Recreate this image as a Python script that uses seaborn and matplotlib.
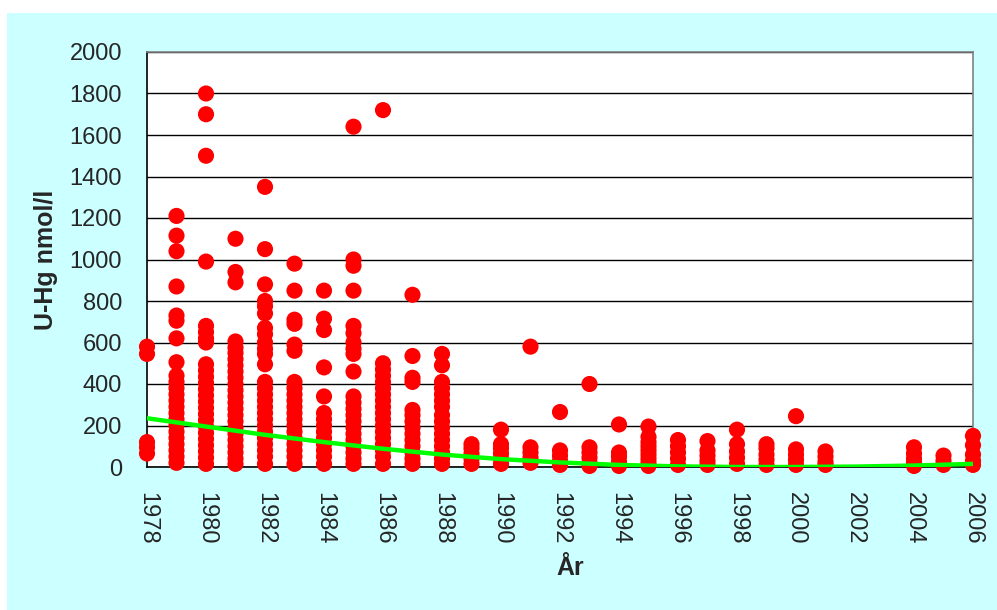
import numpy as np
import pandas as pd
import matplotlib
matplotlib.use("Agg")
import matplotlib.pyplot as plt
from matplotlib.patches import Rectangle
import seaborn as sns

years = [1978, 1979, 1980, 1981, 1982, 1983, 1984, 1985, 1986, 1987, 1988, 1989,
         1990, 1991, 1992, 1993, 1994, 1995, 1996, 1997, 1998, 1999, 2000, 2001,
         2004, 2005, 2006]
hg_values = [
    [580, 545, 120, 95, 65],
    [1210, 1115, 1040, 870, 730, 705, 620, 505, 440, 410, 380, 350, 320, 290,
     260, 230, 200, 170, 140, 110, 80, 50, 20],
    [1800, 1700, 1500, 990, 680, 650, 620, 600, 495, 465, 435, 405, 375, 345,
     315, 285, 255, 225, 195, 165, 135, 105, 75, 45, 15],
    [1100, 940, 890, 605, 575, 550, 520, 490, 460, 430, 400, 370, 340, 310,
     280, 250, 220, 190, 160, 130, 100, 70, 40, 15],
    [1350, 1050, 880, 800, 775, 740, 670, 640, 600, 570, 545, 495, 410, 380,
     350, 320, 290, 260, 230, 200, 170, 140, 110, 80, 50, 15],
    [980, 850, 710, 690, 590, 560, 410, 380, 350, 320, 290, 260, 230, 200,
     170, 140, 110, 80, 50, 15],
    [850, 715, 660, 480, 340, 260, 230, 200, 170, 140, 110, 80, 50, 15],
    [1640, 1000, 970, 850, 680, 645, 600, 570, 545, 460, 340, 310, 280, 250,
     220, 190, 160, 130, 100, 70, 40, 15],
    [1720, 500, 470, 440, 410, 380, 350, 320, 290, 260, 230, 200, 170, 140,
     110, 80, 50, 15],
    [830, 535, 430, 410, 275, 250, 220, 190, 160, 130, 100, 70, 40, 15],
    [545, 490, 410, 380, 350, 320, 290, 250, 220, 190, 160, 130, 100, 70, 40, 15],
    [110, 90, 65, 40, 15],
    [180, 110, 90, 65, 40, 15],
    [580, 95, 70, 45, 20],
    [265, 80, 55, 30, 10],
    [400, 95, 70, 45, 20, 5],
    [205, 70, 50, 25, 5],
    [195, 145, 120, 100, 80, 60, 40, 20, 5],
    [130, 100, 70, 40, 10],
    [125, 80, 55, 30, 10],
    [180, 110, 75, 45, 15],
    [110, 90, 60, 35, 10],
    [245, 85, 60, 35, 10],
    [75, 50, 25, 10],
    [95, 65, 40, 20, 5],
    [55, 30, 10],
    [150, 105, 60, 30, 10],
]

# polynomial trend line
trend_years = [1978, 1980, 1982, 1984, 1986, 1988, 1990, 1992, 1994, 1996,
               1998, 2000, 2002, 2004, 2006]
trend_values = [235, 195, 155, 120, 88, 60, 38, 22, 10, 3, 0, 0, 2, 7, 15]

x_ticks = list(range(1978, 2007, 2))
y_ticks = list(range(0, 2001, 200))

df = pd.DataFrame({
    "year": np.repeat(years, [len(v) for v in hg_values]),
    "hg": np.concatenate(hg_values),
})

sns.set_style("white")
plt.rcParams["font.family"] = ["Liberation Sans", "DejaVu Sans"]

W, H = 997, 610
fig = plt.figure(figsize=(W / 100, H / 100), dpi=100)
fig.patch.set_facecolor("white")
fig.add_artist(Rectangle((7 / W, 0), 1, 1 - 13 / H, transform=fig.transFigure,
                         facecolor="#CCFFFF", edgecolor="none", zorder=-10))

ax = fig.add_axes([147 / W, 1 - 467 / H, (973 - 147) / W, (467 - 52) / H])
ax.set_facecolor("white")

sns.scatterplot(data=df, x="year", y="hg", ax=ax, color="#FF0000", s=135,
                edgecolor="none", linewidth=0, clip_on=False, zorder=3)
sns.lineplot(x=trend_years, y=trend_values, ax=ax, color="#00FF00", lw=3.2,
             zorder=4)

ax.set_xlim(1978, 2006)
ax.set_ylim(0, 2000)
ax.set_xticks(x_ticks)
ax.set_yticks(y_ticks)
ax.set_xticklabels([str(t) for t in x_ticks], rotation=-90, fontsize=17)
ax.set_yticklabels([str(t) for t in y_ticks], fontsize=17)
ax.tick_params(axis="x", direction="inout", length=8, width=1, pad=14, color="black")
ax.tick_params(axis="y", direction="out", length=5, width=1, pad=13, color="black")

ax.yaxis.grid(True, color="black", lw=1)
ax.xaxis.grid(False)
ax.set_axisbelow(True)

for side in ["left", "bottom"]:
    ax.spines[side].set_color("black")
    ax.spines[side].set_linewidth(1.2)
for side in ["top", "right"]:
    ax.spines[side].set_color("#808080")
    ax.spines[side].set_linewidth(1.2)

ax.set_xlabel("År", fontsize=18, fontweight="bold")
ax.set_ylabel("U-Hg nmol/l", fontsize=18, fontweight="bold")
ax.xaxis.label.set_va("center")
ax.yaxis.label.set_va("center")
ax.xaxis.set_label_coords((570 - 147) / 826, (467 - 568) / 415)
ax.yaxis.set_label_coords((46 - 147) / 826, 0.5)

fig.savefig("out.png", dpi=100)
plt.close(fig)
